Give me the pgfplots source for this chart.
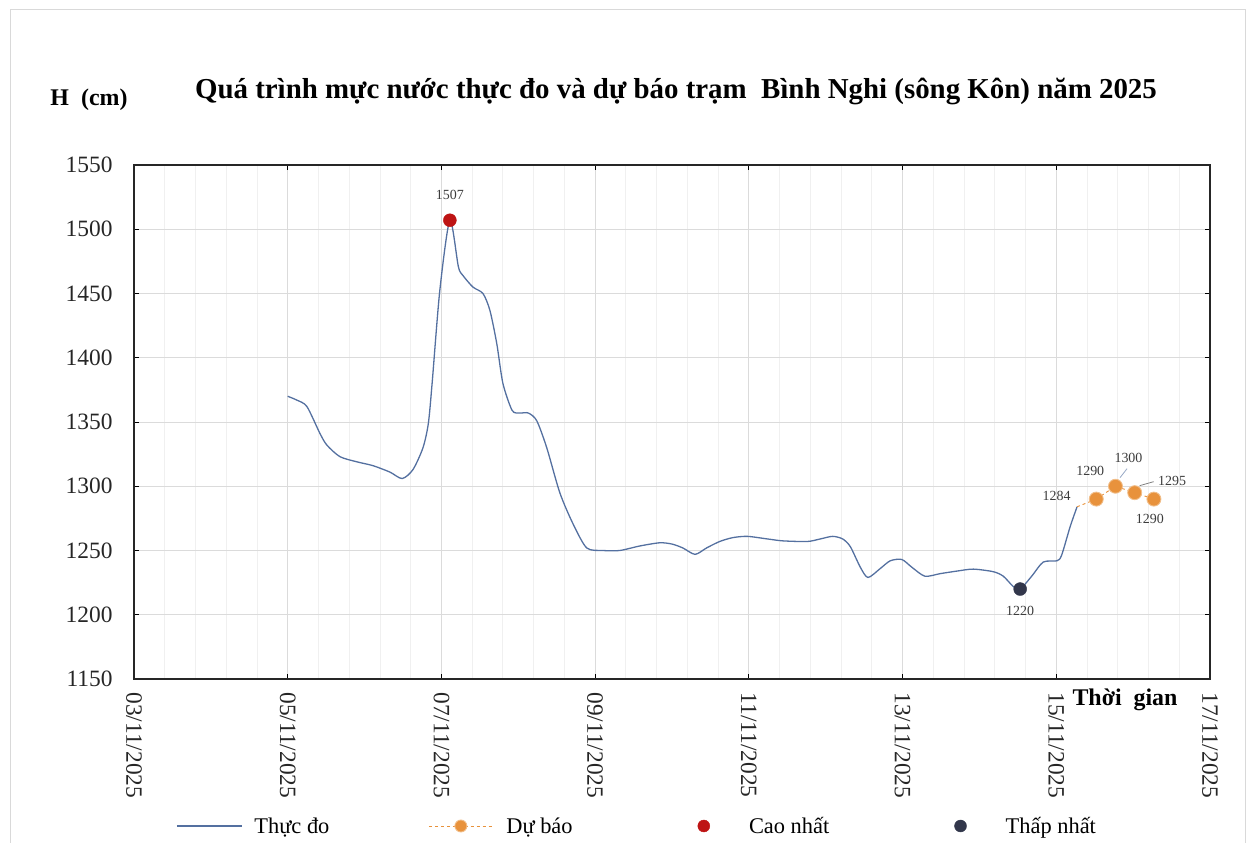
\documentclass[border=0pt]{standalone}
\usepackage{pgfplots}
\pgfplotsset{compat=1.18}
\usepackage{fontspec}
\setmainfont{Liberation Serif}
\definecolor{obs}{RGB}{84,112,160}
\definecolor{fc}{RGB}{232,146,60}
\definecolor{pk}{RGB}{190,20,20}
\definecolor{mn}{RGB}{50,55,75}
\definecolor{lbl}{RGB}{60,60,60}
\begin{document}
\begin{tikzpicture}[x=1bp,y=1bp]
\useasboundingbox (0,0) rectangle (1255,843);
\draw[black!15, line width=1bp] (10,-10) rectangle (1245,833);
\begin{axis}[
  at={(134bp,164bp)}, anchor=south west,
  scale only axis, width=1076bp, height=514bp,
  xmin=3, xmax=17, ymin=1150, ymax=1550,
  xtick={3,5,...,17},
  xticklabels={03/11/2025,05/11/2025,07/11/2025,09/11/2025,11/11/2025,13/11/2025,15/11/2025,17/11/2025},
  ytick={1150,1200,...,1550},
  minor x tick num=4,
  grid=both,
  major grid style={draw=black!14, line width=0.9bp},
  minor grid style={draw=black!6, line width=0.9bp},
  minor tick length=0pt,
  major tick length=5bp,
  tick align=inside,
  tick style={black, line width=0.9bp},
  axis line style={black!85, line width=1.4bp},
  /pgf/number format/assume math mode=true,
  /pgf/number format/set thousands separator={},
  tick label style={font=\fontsize{23.5}{26}\selectfont, black!85},
  yticklabel style={xshift=-18bp},
  xticklabel style={rotate=-90, anchor=west, xshift=10bp},
  legend columns=4,
  legend style={draw=none, fill=none, at={(0.4675,-0.286)}, anchor=center,
    font=\fontsize{22.5}{25}\selectfont,
    /tikz/every odd column/.append style={column sep=10bp},
    /tikz/every even column/.append style={column sep=97bp}},
  legend cell align=left,
  clip=false,
]
\addplot[obs, line width=1.3bp, smooth, tension=0.45,
  legend image code/.code={\draw[mark repeat=2,mark phase=2] plot coordinates {(0bp,0bp) (32bp,0bp) (65bp,0bp)};}]
coordinates {
(5.00,1370) (5.12,1367) (5.25,1362) (5.42,1341) (5.51,1332) (5.68,1323) (5.90,1319)
(6.11,1316) (6.33,1311) (6.49,1306) (6.63,1313) (6.76,1330) (6.83,1349) (6.88,1381)
(6.98,1453) (7.11,1507) (7.22,1471) (7.28,1464) (7.41,1455) (7.54,1450) (7.63,1437)
(7.72,1411) (7.80,1380) (7.92,1359) (8.02,1357) (8.13,1357) (8.24,1351) (8.37,1330)
(8.54,1295) (8.71,1271) (8.89,1252) (9.10,1250) (9.32,1250) (9.58,1253.5) (9.84,1256)
(10.00,1255) (10.14,1252) (10.30,1247) (10.45,1252) (10.62,1257) (10.79,1260) (10.98,1261)
(11.24,1259) (11.44,1257.5) (11.76,1257) (11.93,1259) (12.09,1261) (12.22,1259) (12.32,1253)
(12.45,1237) (12.55,1229) (12.71,1236) (12.84,1242) (12.99,1243) (13.12,1237) (13.29,1230)
(13.49,1232) (13.71,1234) (13.92,1235.5) (14.18,1233.5) (14.31,1230) (14.44,1222) (14.53,1220)
(14.68,1230) (14.83,1241) (15.01,1242) (15.07,1246.5) (15.18,1268.5) (15.27,1284)
};
\addlegendentry{Thực đo}
\addplot[fc, line width=0.9bp, dashed, mark=*, mark size=7bp, mark options={solid, fill=fc, draw=fc!60},
  legend image code/.code={\draw[mark repeat=2,mark phase=2, mark size=6bp] plot coordinates {(0bp,0bp) (32bp,0bp) (65bp,0bp)};}]
coordinates {(15.52,1290) (15.77,1300) (16.02,1295) (16.27,1290)};
\addlegendentry{Dự báo}
\addplot[fc, line width=0.9bp, dashed, forget plot] coordinates {(15.27,1284) (15.52,1290)};
\addplot[only marks, mark=*, mark size=6.5bp, color=pk,
  legend image code/.code={\path (0bp,0bp) (65bp,0bp); \draw[mark repeat=2,mark phase=2, mark size=6bp] plot coordinates {(0bp,0bp) (32bp,0bp) (65bp,0bp)};}]
coordinates {(7.11,1507)};
\addlegendentry{Cao nhất}
\addplot[only marks, mark=*, mark size=6.5bp, color=mn,
  legend image code/.code={\path (0bp,0bp) (65bp,0bp); \draw[mark repeat=2,mark phase=2, mark size=6bp] plot coordinates {(0bp,0bp) (32bp,0bp) (65bp,0bp)};}]
coordinates {(14.53,1220)};
\addlegendentry{Thấp nhất}
\begin{scope}[every node/.style={font=\fontsize{14}{16}\selectfont, text=lbl}]
\node at (axis cs:7.11,1507) [yshift=25bp] {1507};
\node at (axis cs:14.53,1220) [yshift=-22bp] {1220};
\node at (axis cs:15.27,1284) [anchor=east, xshift=-3bp, yshift=11bp] {1284};
\node at (axis cs:15.52,1290) [yshift=28bp, xshift=-6bp] {1290};
\node at (axis cs:15.77,1300) [yshift=28bp, xshift=13bp] {1300};
\node at (axis cs:16.02,1295) [anchor=west, xshift=20bp, yshift=12bp] {1295};
\node at (axis cs:16.27,1290) [yshift=-20bp, xshift=-4bp] {1290};
\end{scope}
\draw[obs!60, line width=0.8bp] (axis cs:15.79,1302) ++(3bp,6bp) -- ++(7bp,9bp);
\draw[black!50, line width=0.8bp] (axis cs:16.02,1295) ++(5bp,7bp) -- ++(14bp,4bp);
\end{axis}
\node[font=\bfseries\fontsize{29}{32}\selectfont] at (676,751) {Quá trình mực nước thực đo và dự báo trạm\ \ Bình Nghi (sông Kôn) năm 2025};
\node[font=\bfseries\fontsize{24}{28}\selectfont] at (89,743) {H\ \ (cm)};
\node[font=\bfseries\fontsize{24}{28}\selectfont] at (1125,143) {Thời\ \ gian};
\end{tikzpicture}
\end{document}
